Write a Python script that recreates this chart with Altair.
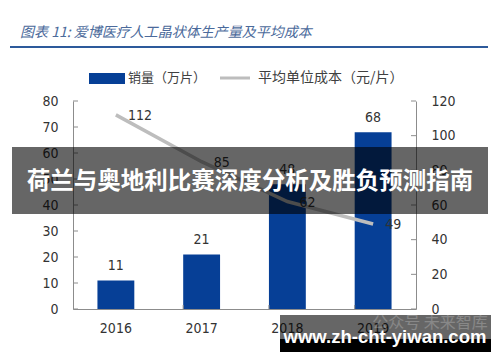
import altair as alt
import pandas as pd

years = ["2016", "2017", "2018", "2019"]
sales = [11, 21, 48, 68]          # 销量（万片）
cost = [112, 85, 62, 49]          # 平均单位成本（元/片）
left_ticks = [0, 10, 20, 30, 40, 50, 60, 70, 80]
right_ticks = [0, 20, 40, 60, 80, 100, 120]

title_text = "图表 11:  爱博医疗人工晶状体生产量及平均成本"
legend_bar = "销量（万片）"
legend_line = "平均单位成本（元/片）"
banner_text = "荷兰与奥地利比赛深度分析及胜负预测指南"
watermark_text = "www.zh-cht-yiwan.com"
faint_text = "公众号 未来智库"

df = pd.DataFrame({"year": years, "sales": sales, "cost": cost})
lt = pd.DataFrame({"sales": left_ticks})
rt = pd.DataFrame({"cost": right_ticks})
xt = pd.DataFrame({"year": years[1:]})
one = pd.DataFrame({"k": [0]})

NUM = "'DejaVu Sans Condensed', 'Liberation Sans', sans-serif"
CJK = "Noto Sans CJK SC"
AX = "#8c8c8c"
TXT = "#333333"
BAR = "#063f96"
LINE = "#bdbdbd"

xscale = alt.Scale(paddingInner=0.57, paddingOuter=0.285)
xaxis = alt.Axis(title=None, labelAngle=0, labelFont=NUM, labelFontSize=14,
                 labelColor=TXT, domainColor=AX, ticks=False, labelPadding=12)
lscale = alt.Scale(domain=[0, 80])
rscale = alt.Scale(domain=[0, 120])
laxis = alt.Axis(title=None, values=left_ticks, grid=False, ticks=False,
                 domainColor=AX, labelFont=NUM, labelFontSize=14,
                 labelColor=TXT, labelPadding=15, orient="left")
raxis = alt.Axis(title=None, values=right_ticks, grid=False, ticks=False,
                 domainColor=AX, labelFont=NUM, labelFontSize=14,
                 labelColor=TXT, labelPadding=15, orient="right")


def X(**kw):
    return alt.X("year:N", scale=xscale, sort=years, axis=xaxis, **kw)


def YL():
    return alt.Y("sales:Q", scale=lscale, axis=laxis)


def YR():
    return alt.Y("cost:Q", scale=rscale, axis=raxis)


bars = alt.Chart(df).mark_bar(color=BAR).encode(x=X(), y=YL())
bar_text = alt.Chart(df).mark_text(font=NUM, fontSize=14, color=TXT,
                                   baseline="alphabetic", dy=-10).encode(
    x=X(), y=YL(), text="sales:Q")
lticks = alt.Chart(lt).mark_rule(color=AX).encode(
    y=YL(), x=alt.value(0), x2=alt.value(5))
xticks = alt.Chart(xt).mark_rule(color=AX).encode(
    x=X(bandPosition=0), y=alt.value(208), y2=alt.value(204))

left = alt.layer(bars, bar_text, lticks, xticks)

line = alt.Chart(df).mark_line(color=LINE, strokeWidth=3.5).encode(x=X(), y=YR())
line_text = alt.Chart(df).mark_text(font=NUM, fontSize=14, color=TXT, align="left",
                                    baseline="middle", dx=12, dy=1).encode(
    x=X(), y=YR(), text="cost:Q")
rticks = alt.Chart(rt).mark_rule(color=AX).encode(
    y=YR(), x=alt.value(343), x2=alt.value(338))

right = alt.layer(line, line_text, rticks)

base = alt.Chart(one)
title = base.mark_text(text=title_text, font=CJK, fontSize=14, fontStyle="italic",
                       color="#4b6a9b", align="left", baseline="middle").encode(
    x=alt.value(-53), y=alt.value(-68))
title_rule = base.mark_rule(color="#2d5a9b", strokeWidth=2).encode(
    x=alt.value(-63), x2=alt.value(415), y=alt.value(-54))
leg_sw = base.mark_rect(color=BAR).encode(
    x=alt.value(16), x2=alt.value(52), y=alt.value(-28), y2=alt.value(-17))
leg_t1 = base.mark_text(text=legend_bar, font=CJK, fontSize=13, color="#404040",
                        align="left", baseline="middle").encode(
    x=alt.value(55), y=alt.value(-23))
leg_ln = base.mark_rule(color=LINE, strokeWidth=3).encode(
    x=alt.value(147), x2=alt.value(177), y=alt.value(-23))
leg_t2 = base.mark_text(text=legend_line, font=CJK, fontSize=14, color="#404040",
                        align="left", baseline="middle").encode(
    x=alt.value(185), y=alt.value(-23))

banner = base.mark_rect(color="black", opacity=0.6).encode(
    x=alt.value(-61), x2=alt.value(415), y=alt.value(46), y2=alt.value(113))
banner_t = base.mark_text(text=banner_text, font=CJK, fontSize=23.5, fontWeight="bold",
                          color="white", align="center", baseline="middle").encode(
    x=alt.value(177), y=alt.value(81))

wm_grey = base.mark_rect(color="black", opacity=0.6).encode(
    x=alt.value(207), x2=alt.value(418), y=alt.value(214), y2=alt.value(238))
wm_black = base.mark_rect(color="black").encode(
    x=alt.value(207), x2=alt.value(418), y=alt.value(238), y2=alt.value(251))
wm_faint = base.mark_text(text=faint_text, font=CJK, fontSize=16, color="white",
                          opacity=0.22, align="center", baseline="middle").encode(
    x=alt.value(357), y=alt.value(222))
wm_t = base.mark_text(text=watermark_text, font="Liberation Sans", fontSize=18.5,
                      fontWeight="bold", color="white", align="center",
                      baseline="middle").encode(x=alt.value(312), y=alt.value(236))

chart = alt.layer(
    left, right, title, title_rule, leg_sw, leg_t1, leg_ln, leg_t2,
    banner, banner_t, wm_grey, wm_black, wm_faint, wm_t
).resolve_scale(y="independent").properties(
    width=343, height=208,
    padding={"left": 65, "top": 93, "right": 76, "bottom": 45},
    autosize=alt.AutoSizeParams(type="none"),
    background="white",
).configure_view(stroke=None)

chart.save("out.html", embed_options={"renderer": "svg", "actions": False})
